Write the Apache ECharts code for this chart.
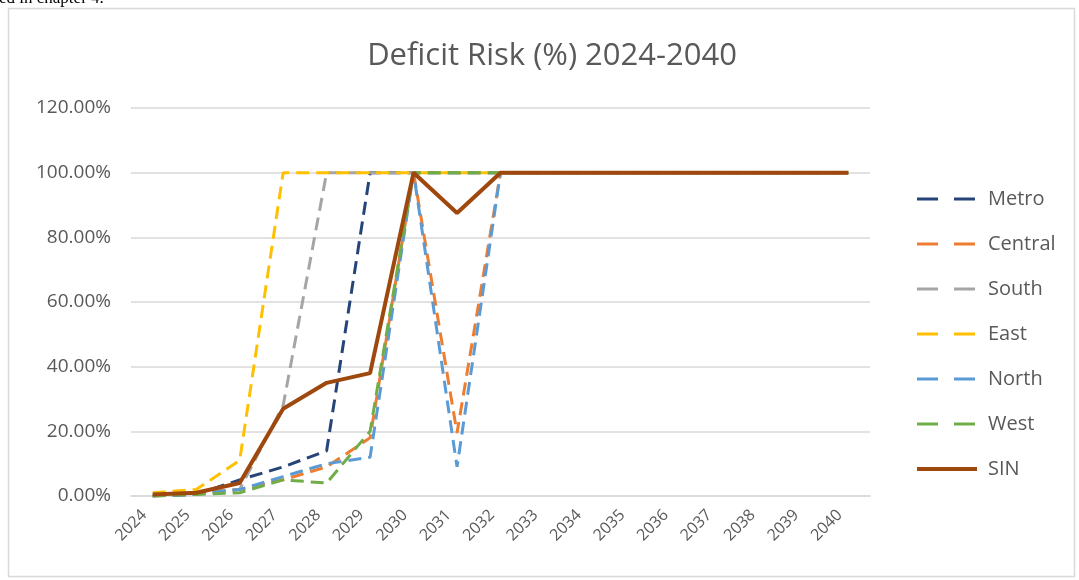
<!DOCTYPE html>
<html>
<head>
<meta charset="utf-8">
<script src="https://cdn.jsdelivr.net/npm/echarts@6/dist/echarts.min.js"></script>
<style>
  html, body { margin: 0; padding: 0; background: #ffffff; }
  #chart { width: 1079px; height: 580px; }
</style>
</head>
<body>
<div id="chart"></div>
<script>
// Years on the category axis
const years = ['2024','2025','2026','2027','2028','2029','2030','2031','2032',
               '2033','2034','2035','2036','2037','2038','2039','2040'];

// Deficit risk per region, in percent
const metro   = [0, 0.5, 5, 9, 14, 100, 100, 100, 100, 100, 100, 100, 100, 100, 100, 100, 100];
const central = [0, 1, 2, 5, 9, 18, 100, 19.5, 100, 100, 100, 100, 100, 100, 100, 100, 100];
const south   = [0, 1, 2, 28, 100, 100, 100, 100, 100, 100, 100, 100, 100, 100, 100, 100, 100];
const east    = [1, 2, 11, 100, 100, 100, 100, 100, 100, 100, 100, 100, 100, 100, 100, 100, 100];
const north   = [0, 0.5, 2, 6, 10, 12, 100, 9, 100, 100, 100, 100, 100, 100, 100, 100, 100];
const west    = [0, 0.5, 1, 5, 4, 20, 100, 100, 100, 100, 100, 100, 100, 100, 100, 100, 100];
const sin     = [0.5, 1, 4, 27, 35, 38, 100, 87.5, 100, 100, 100, 100, 100, 100, 100, 100, 100];

const seriesNames = ['Metro', 'Central', 'South', 'East', 'North', 'West', 'SIN'];
const seriesData  = [metro, central, south, east, north, west, sin];
const seriesColors = ['#264478', '#ED7D31', '#A5A5A5', '#FFC000', '#5B9BD5', '#70AD47', '#9E480E'];

const textColor = '#595959';
const font = '"Open Sans", Lato, sans-serif';

const chart = echarts.init(document.getElementById('chart'), null, { renderer: 'canvas' });

const series = seriesNames.map((name, i) => {
  const solid = name === 'SIN';
  return {
    name: name,
    type: 'line',
    data: seriesData[i],
    symbol: 'none',
    z: solid ? 10 : 2 + i,
    lineStyle: {
      color: seriesColors[i],
      width: solid ? 4 : 3,
      type: solid ? 'solid' : [13, 7],
      cap: 'butt'
    },
    itemStyle: { color: seriesColors[i] }
  };
});

// Legend keys: two long dashes for the regions, a solid bar for SIN
const legendItems = seriesNames.map(name => ({
  name: name,
  lineStyle: name === 'SIN' ? { width: 4 } : { type: [21, 16], width: 3 }
}));

chart.setOption({
  animation: false,
  backgroundColor: '#ffffff',
  title: {
    text: 'Deficit Risk (%) 2024-2040',
    left: 547,
    textAlign: 'center',
    top: 36,
    textStyle: { color: textColor, fontSize: 31, fontWeight: 'normal', fontFamily: font }
  },
  graphic: [
    {
      type: 'rect',
      shape: { x: 8.5, y: 8.5, width: 1066, height: 568 },
      style: { fill: 'none', stroke: '#d9d9d9', lineWidth: 1.5 },
      silent: true
    },
    {
      type: 'text',
      left: -1,
      top: -10,
      style: { text: 'ed in chapter 4.', font: '17px "Liberation Serif", serif', fill: '#000000' },
      silent: true
    }
  ],
  legend: {
    orient: 'vertical',
    left: 910,
    top: 184,
    itemWidth: 60,
    itemHeight: 14,
    itemGap: 25,
    data: legendItems,
    itemStyle: { opacity: 0 },
    textStyle: { color: textColor, fontSize: 20, fontFamily: font, padding: [0, 0, 0, 6] }
  },
  grid: {
    left: 131,
    right: 209,
    top: 108,
    bottom: 84,
    containLabel: false
  },
  xAxis: {
    type: 'category',
    data: years,
    boundaryGap: true,
    axisLine: { show: true, lineStyle: { color: '#d9d9d9', width: 1.5 } },
    axisTick: { show: false },
    axisLabel: {
      rotate: 45,
      color: textColor,
      fontSize: 16,
      fontFamily: font,
      margin: 8,
      padding: [0, 12, 0, 0],
      interval: 0
    }
  },
  yAxis: {
    type: 'value',
    min: 0,
    max: 120,
    interval: 20,
    axisLine: { show: false },
    axisTick: { show: false },
    splitLine: { lineStyle: { color: '#d9d9d9', width: 1.5 } },
    axisLabel: {
      color: textColor,
      fontSize: 19,
      fontFamily: font,
      margin: 20,
      formatter: v => v.toFixed(2) + '%'
    }
  },
  series: series
});
</script>
</body>
</html>
